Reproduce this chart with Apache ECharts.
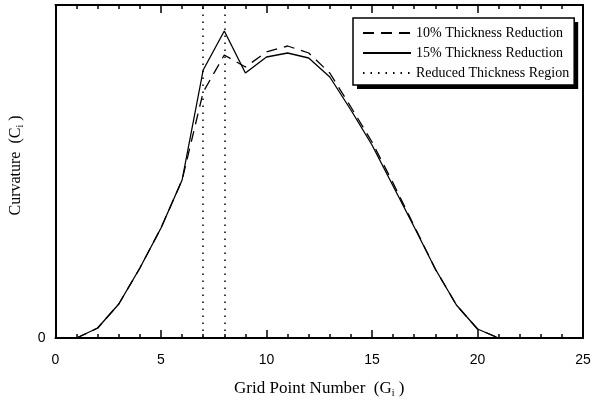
<!DOCTYPE html>
<html>
<head>
<meta charset="utf-8">
<script src="https://cdn.jsdelivr.net/npm/echarts@6/dist/echarts.min.js"></script>
<style>html,body{margin:0;padding:0;background:#fff;}#c{width:594px;height:406px;}</style>
</head>
<body>
<div id="c"></div>
<script>
var gridPoints = [1,2,3,4,5,6,7,8,9,10,11,12,13,14,15,16,17,18,19,20,21];
var thick10 = [0,10,34,70,110,158,246,283,271,286,292,285,265,231,196,155,112,69,33,9,0];
var thick15 = [0,10,34,70,110,158,268,307,265,281,285,280,261,228,193,152,111,69,33,9,0];
var regionBounds = [7, 8];
var seriesNames = ['10% Thickness Reduction', '15% Thickness Reduction', 'Reduced Thickness Region'];
var yMax = 333;

function pairs(xs, ys){ return xs.map(function(x,i){ return [x, ys[i]]; }); }

var serif = 'Liberation Serif';
var sans = 'Liberation Sans';
var richX = {
  t: {fontFamily: serif, fontSize: 17, color: '#000'},
  s: {fontFamily: serif, fontSize: 10, color: '#000', padding: [9,0,0,0]}
};
var richY = {
  t: {fontFamily: serif, fontSize: 16, color: '#000'},
  s: {fontFamily: serif, fontSize: 10, color: '#000', padding: [9,0,0,0]}
};

var legendBase = {
  orient: 'vertical',
  data: seriesNames,
  itemWidth: 48, itemHeight: 14, itemGap: 6,
  padding: [8, 5, 5, 9],
  selectedMode: false
};

var chart = echarts.init(document.getElementById('c'), null, {renderer: 'canvas'});
chart.setOption({
  animation: false,
  backgroundColor: '#fff',
  grid: {left: 54, right: 11, top: 5, bottom: 68},
  legend: [
    Object.assign({}, legendBase, {
      left: 357, top: 22, z: 3,
      backgroundColor: '#000', borderWidth: 0,
      textStyle: {fontFamily: serif, fontSize: 14, color: 'rgba(0,0,0,0)'},
      itemStyle: {opacity: 0}, lineStyle: {opacity: 0}
    }),
    Object.assign({}, legendBase, {
      left: 353, top: 18, z: 4,
      backgroundColor: '#fff', borderColor: '#000', borderWidth: 1.5,
      textStyle: {fontFamily: serif, fontSize: 14, color: '#000'},
      itemStyle: {opacity: 0}
    })
  ],
  xAxis: [{
    type: 'value', min: 0, max: 25, interval: 5, position: 'bottom',
    axisLine: {show: true, onZero: false, lineStyle: {color: '#000', width: 2}},
    axisTick: {show: true, inside: true, length: 8, lineStyle: {color: '#000', width: 1.5}},
    minorTick: {show: true, splitNumber: 5, length: 4, lineStyle: {color: '#000', width: 1.5}},
    axisLabel: {fontFamily: sans, fontSize: 14, color: '#000', margin: 15},
    splitLine: {show: false},
    name: '{t|Grid Point Number  (G}{s|i}{t| )}',
    nameLocation: 'middle', nameGap: 41,
    nameTextStyle: {rich: richX}
  }, {
    type: 'value', min: 0, max: 25, interval: 5, position: 'top',
    axisLine: {show: true, onZero: false, lineStyle: {color: '#000', width: 2}},
    axisTick: {show: true, inside: true, length: 8, lineStyle: {color: '#000', width: 1.5}},
    minorTick: {show: true, splitNumber: 5, length: 4, lineStyle: {color: '#000', width: 1.5}},
    axisLabel: {show: false}, splitLine: {show: false}
  }],
  yAxis: [{
    type: 'value', min: 0, max: yMax, interval: yMax, position: 'left',
    axisLine: {show: true, onZero: false, lineStyle: {color: '#000', width: 2}},
    axisTick: {show: false},
    axisLabel: {fontFamily: sans, fontSize: 14, color: '#000', margin: 10,
      formatter: function(v){ return v === 0 ? '0' : ''; }},
    splitLine: {show: false},
    name: '{t|Curvature  (C}{s|i}{t| )}',
    nameLocation: 'middle', nameGap: 30, nameRotate: 90,
    nameTextStyle: {rich: richY, padding: [0, 0, 0, 12]}
  }, {
    type: 'value', min: 0, max: yMax, interval: yMax, position: 'right',
    axisLine: {show: true, onZero: false, lineStyle: {color: '#000', width: 2}},
    axisTick: {show: false}, axisLabel: {show: false}, splitLine: {show: false}
  }],
  series: [{
    name: seriesNames[0], type: 'line', data: pairs(gridPoints, thick10),
    symbol: 'none', color: '#000',
    lineStyle: {color: '#000', width: 1.3, type: [11, 7]}
  }, {
    name: seriesNames[1], type: 'line', data: pairs(gridPoints, thick15),
    symbol: 'none', color: '#000',
    lineStyle: {color: '#000', width: 1.3, type: 'solid'}
  }, {
    name: seriesNames[2], type: 'line', data: [],
    symbol: 'none', color: '#000',
    lineStyle: {color: '#000', width: 1.5, type: [1.5, 6]},
    markLine: {
      silent: true, symbol: 'none', label: {show: false},
      lineStyle: {color: '#000', width: 1.5, type: [1.5, 5.5]},
      data: regionBounds.map(function(b){ return {xAxis: b}; })
    }
  }]
});
</script>
</body>
</html>
